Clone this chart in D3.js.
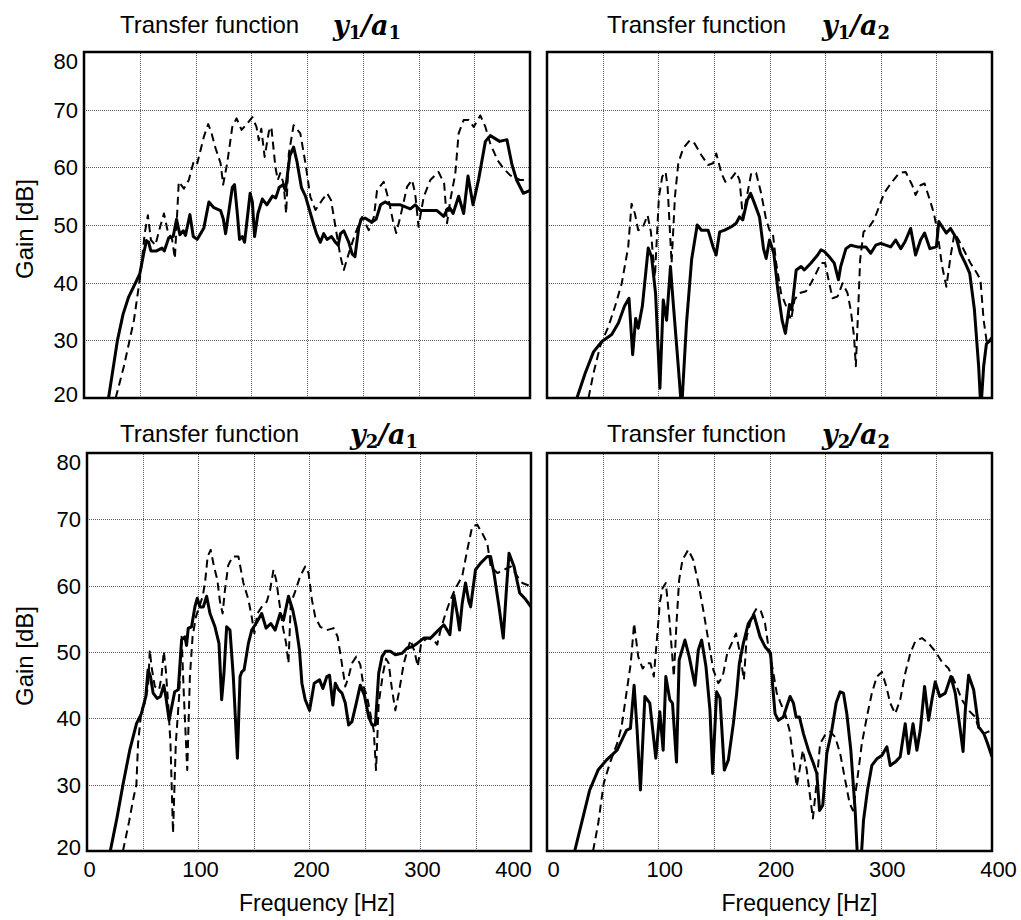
<!DOCTYPE html>
<html>
<head>
<meta charset="utf-8">
<script src="https://cdn.jsdelivr.net/npm/d3@7"></script>
<style>
  html, body { margin: 0; padding: 0; background: #fff; }
  svg { display: block; }
  text { font-family: "Liberation Sans", Arial, Helvetica, sans-serif; fill: #000; }
  .math { font-family: "DejaVu Serif", serif; font-style: italic; font-weight: bold; }
</style>
</head>
<body>
<svg id="chart" width="1021" height="920"></svg>
<script>
// Axis ticks
const freqTicks = [0, 100, 200, 300, 400];
const gainTicks = [20, 30, 40, 50, 60, 70, 80];
const freqGrid = [50, 100, 150, 200, 250, 300, 350];
const gainGrid = [30, 40, 50, 60, 70];

// Gain [dB] vs frequency [Hz], solid = measured response, dashed = second response
const y1a1Solid = [[22,20],[26,25],[30,30],[35,34.5],[40,37.5],[45,39.5],[50,41.5],[54,45.5],[56,47.3],[58,47],[60,45.5],[65,45.5],[70,46],[72,45.5],[76,47.8],[80,48],[83,51],[86,48.3],[89,49],[91,48.2],[95,51.8],[98,48],[101.5,47.5],[107.5,49.5],[112,54],[116.5,53],[122.5,52.5],[125,51],[127,48.5],[133,56.5],[135,57],[137.5,52],[139.5,47.5],[142,48],[144,47],[149,55.5],[151,54],[153,48],[156,52],[160,54.5],[164,53.5],[169,55],[172,54.7],[175,56.5],[178.5,57],[180.7,56],[184.6,62],[188,63.5],[191,61],[195,56.5],[198.6,55],[204.6,51],[208.5,48.5],[212,47],[215,48.5],[218,47.5],[222,48],[225.5,47],[228,46.5],[230,48.5],[233,49],[237.5,47],[240.5,45],[243,44.5],[246.4,49.5],[248.5,51],[252,51.2],[258,50.5],[262,51],[266,53.5],[270,54],[275,53.5],[283.7,53.5],[292.7,52.8],[297,53.5],[301.7,52.5],[308,52.5],[316.6,52.5],[322.6,51.5],[326,52.8],[328,53],[331,52],[336,55],[340.5,52],[344.4,58.5],[348.9,53.5],[354,58],[360,64.5],[364.4,65.5],[372.8,64.5],[379.3,64.8],[383.8,60.5],[388,57.8],[394,55.5],[400,56]];
const y1a1Dashed = [[28.4,20],[35.8,25.5],[44.8,33.5],[50.8,41.6],[54.4,48.5],[57.3,51.7],[60,47.4],[64,46.5],[68,49.5],[71.7,52],[75,49],[79,47.5],[81.5,44.2],[85,57.5],[89.6,56.3],[94,57.8],[98.6,61.2],[101.6,60.7],[107.5,65.3],[111.4,67.5],[114,66.2],[118,63.3],[122.5,60.7],[124.8,57],[128.4,60.7],[133,67],[136.8,68.5],[141.3,66.5],[146.4,67.6],[151,68.7],[154.7,67],[156.8,64.7],[159,66.7],[162,61.8],[165.8,66.2],[168,67],[171.7,60],[173.8,57.8],[176,59],[179,57.2],[181.3,52],[183.7,62.4],[188,67.3],[194,65.9],[198.6,60.7],[203,54.9],[207.6,52.6],[213.5,54.3],[218,55.5],[221.6,54.3],[225.5,49.7],[230,44.5],[233,42.2],[237.5,45.1],[243.4,48.6],[249.4,51.4],[255.4,49.1],[260,51.4],[262.8,56],[268.8,57.5],[273.3,54.3],[277,50.8],[280,48.6],[283.7,51.4],[289.7,56.6],[294.2,57.8],[297,55.5],[300,49.7],[304.7,54.9],[310.6,57.8],[318,59.2],[323,57.2],[325.6,50.3],[328.5,54.3],[333,58.9],[336,65.9],[340.5,68.2],[345,68.2],[349.5,67],[355.4,69],[360,67],[364.4,64.1],[371,61.2],[376.3,59.8],[382.3,58.6],[391,57.8],[400,57.8]];

const y1a2Solid = [[26.9,20],[34.3,24.3],[41.8,28],[49.3,29.8],[58.2,31],[64.2,33],[69.6,35.9],[73.7,37.3],[77,27.5],[79.7,33.8],[82,32.1],[85.7,35.9],[91,46],[94,44.5],[97.6,38.1],[101.5,21.7],[104.5,37],[107.5,33.5],[111,42.8],[112.8,38.1],[118,25.5],[121,18],[125.4,33],[130,44],[135,50],[138.8,49.1],[144.8,49.1],[149.3,46.2],[152,44.8],[155.2,48.8],[159.7,49.1],[165.7,49.7],[170,50.3],[173,51.4],[176,50.9],[180,54.3],[183,55.5],[186.6,53.7],[191,51.4],[194.6,45.9],[197,44.2],[200,47.4],[203.9,45.1],[207.5,38.7],[211.3,33.5],[214.3,31.2],[218,36.2],[220,35.3],[224,42.2],[228.4,42.8],[231.3,42.2],[237.3,43.4],[243.3,44.8],[246.3,45.7],[249.3,45.4],[253.7,44.5],[258.2,43.4],[262,40.5],[264,42.8],[268.7,45.9],[273,46.5],[279,46.2],[286.6,46.2],[291,45.1],[295.5,46.5],[300,46.8],[309,46.2],[313.4,47.4],[318,45.9],[321.8,47.1],[326.9,49.4],[331.3,44.8],[335.8,47.4],[339.4,48.6],[344.2,45.9],[350,46.2],[352.2,50.6],[355.2,49.7],[359,48.6],[362.7,49.4],[368,47.7],[371.6,45.1],[376,43.4],[380,41.6],[384.2,35.3],[388,25.5],[390,18],[392.5,25.5],[395,29.4],[400,30.3]];
const y1a2Dashed = [[37.3,20],[41.8,24.3],[47.8,29],[55.2,32.4],[61.2,35.9],[67.2,39.9],[73,46.2],[76,53.7],[79,52],[82,49.1],[85.7,49.4],[90.4,51.7],[93.4,48.8],[97,41],[100.6,54.9],[103.6,58.4],[106.6,59.2],[108.4,56.6],[112,43.4],[115,54.9],[118,60.7],[122.4,63.3],[128.4,64.7],[132.8,64.1],[138.8,62.1],[144.8,60.4],[149.3,60.7],[152.2,62.4],[156.7,59],[160.3,57.5],[165.7,58.1],[170,59.2],[173.1,57.8],[176,51.4],[179,54.3],[183.6,59],[188,59],[192.5,55.5],[197,50.9],[200,49.1],[203,48.6],[206,43.4],[210.4,38.2],[215,35.9],[219.4,33.5],[222.4,37],[227,38.2],[232.8,38.5],[237.3,39.9],[241.8,41.6],[246.3,43.4],[250,43.4],[253.7,39.9],[256.7,37.3],[261.2,37.6],[265.7,39.9],[270.1,38.2],[273,35.3],[276,30.7],[277.6,25.5],[279.7,35.3],[281.5,44],[284.5,48.8],[289.6,49.7],[294,50.9],[298.5,53.2],[303,55.5],[309,57.2],[316.4,59],[322.4,59.2],[328.3,56.9],[331.3,55.2],[335.8,56.9],[339.4,57.2],[344.2,54.3],[347.8,52],[350.7,49.1],[355.2,42.8],[359,39.3],[362.7,44.5],[366.3,48.6],[370,47.4],[374.6,45.7],[380.6,43.4],[386.6,41.6],[389.6,40.5],[392.5,33.5],[395.5,29.4],[400,30.6]];

const y2a1Solid = [[21,20],[27,25],[32.4,30],[38.5,35.2],[44.6,39.2],[49,40.7],[53,43.3],[55,47.3],[57.2,46.3],[59.6,43.8],[63.2,43],[66.2,43.3],[69.2,45],[71,43.3],[74,39.7],[77,42.3],[79,44],[82.2,44.3],[85.2,51.8],[88.2,52.3],[89.7,51],[91.2,53.6],[94.2,53.8],[97.2,56.8],[99.3,58.1],[101.7,56.8],[104.8,56.8],[107.8,58.4],[110.8,55.8],[115.3,53.8],[118.9,51.3],[121.3,42.8],[123.4,46.8],[125.8,53.8],[128.8,53.3],[131.8,46.3],[135.5,34],[137.9,46.3],[139.4,47],[141.5,47.3],[145.4,51.3],[148.4,53.3],[152.3,54.3],[157.4,55.8],[161.3,53.6],[165.6,54.3],[169.5,53.3],[174,55.8],[177,54.8],[181.5,58.4],[185.4,56.3],[188.4,53.8],[191.4,50.3],[193.6,45.3],[196.6,42.8],[200.5,41.2],[204.7,45.3],[209.5,45.8],[212.5,44.5],[216.1,46.3],[218.5,46.5],[221.5,42],[223.7,45.3],[226.7,44.3],[229.7,43.8],[232.7,42.3],[235.7,39],[238.7,39.5],[242.6,42.3],[246.2,45],[249.9,43.5],[253.8,40.2],[256.8,39],[259.8,39],[262.8,46.8],[265.8,49.3],[268.8,50.1],[273.3,50.1],[277.8,49.6],[283.9,49.8],[288.4,50.6],[292.9,50.8],[297.4,51.3],[303.4,52.1],[309.5,52.1],[315.5,53.1],[321.5,54.1],[324.5,53.3],[326.9,52.6],[330.5,58.6],[333.5,55.8],[335.6,53.3],[338,57.3],[341,60.4],[344,57.6],[345.6,56.8],[350,62.4],[354.6,63.4],[360.6,64.4],[363.6,64.4],[366.6,61.9],[371.2,56.8],[375,52.1],[377.8,59.3],[380.2,64.9],[384.7,62.9],[389.8,58.9],[395.3,57.9],[400,56.8]];
const y2a1Dashed = [[32.4,20],[38,24.5],[41.5,27.7],[44.5,30],[46,36.2],[49,41.2],[52,42.3],[55,44.8],[56.6,50.3],[58.1,47.8],[61.1,44.8],[65,44.3],[67.1,46.3],[69.2,50.1],[71,47.3],[73.1,42.3],[75.2,36.2],[77.5,22.7],[80,36.2],[83,43.3],[85.2,52.3],[87.3,43.3],[90.3,32.2],[92.7,46.3],[95.1,52.3],[98.1,55.3],[101.1,56.8],[104.2,58.4],[106.3,60.4],[108.7,64.4],[111.4,65.4],[114.4,62.9],[117.4,60.9],[119.8,57.6],[122.2,55.8],[124.3,59.4],[127.3,63.1],[131.2,64.4],[136.4,64.4],[140.9,60.4],[145.4,57.9],[148.4,55.3],[150.8,52.8],[153.5,55.8],[157.4,56.8],[162,57.6],[165,59.4],[168,62.4],[170.4,60.9],[173.4,57.3],[176.4,53.8],[179.4,51.3],[181.5,48.3],[183.6,57.3],[187.5,59.1],[192,61.4],[196.6,62.9],[199.6,61.9],[202.6,57.9],[205.6,55.3],[210.1,53.8],[216.1,53.3],[222.2,53.6],[225.8,52.3],[229.1,48.8],[232.7,44.8],[235.7,46.3],[238.7,48.3],[242.6,49.3],[246.2,48.1],[249.2,44.8],[252.3,43.3],[255.3,40.7],[258.3,38.2],[260.4,32.2],[262.8,42.3],[266.7,46.8],[269.4,49],[271.8,48.3],[274.8,44.3],[277.8,41.2],[280.9,43.8],[285.4,48.3],[291.4,51.8],[295,50.1],[298,47.8],[301,51.3],[306.4,52.1],[312.5,51.8],[315.5,51.1],[318.5,53.3],[323,55.8],[327.5,57.9],[332,59.6],[338,61.4],[342.6,65.4],[347,68.9],[351.6,69.2],[356.1,67.9],[360.6,66.4],[363.7,62.9],[369.7,61.9],[375.7,62.4],[381.7,62.9],[387.7,61.4],[392.2,60.4],[400,59.9]];

const y2a2Solid = [[24.9,20],[30.9,24.1],[38.4,29.2],[45.9,32.2],[53.4,33.7],[63,35.2],[71.4,38.2],[75,38.5],[78.3,45],[81,38.2],[84,29.2],[88,43.3],[92.4,42.3],[97.8,34],[101.4,41],[104.4,35.2],[106.8,46.3],[110.4,42.8],[112.8,42.3],[116.4,33.4],[118.8,48.8],[124,51.8],[127.8,49.3],[133,45],[136,50.3],[139,51.8],[142.9,47.8],[146.5,41.2],[148.9,31.7],[152.5,44],[155.5,43],[159.4,32.2],[163,33.7],[167.5,39.2],[170.5,43.8],[172.9,48.3],[176.5,51.3],[181,54.3],[186,55.6],[191.5,52.3],[196,50.8],[201,49.8],[202.9,44.8],[205,40.7],[208,39.7],[212.5,40.2],[215.5,41.8],[218.5,43.3],[221.5,42.3],[223.9,40.2],[226.9,40.2],[230.5,37.7],[235,35.2],[239.5,33.2],[242.5,31.7],[245,26.1],[247.9,26.9],[251.5,34.7],[256,38.2],[259.9,42.3],[263.5,44],[266.5,43.8],[269.5,40.7],[273.1,35.2],[277,26.1],[279.4,18],[282.1,18],[284.5,24.6],[288.1,29.2],[292,32.9],[296.5,33.9],[301,34.4],[305.5,35.7],[308.5,32.9],[313,33.4],[317.5,34.2],[322,39.2],[325,34.7],[329,39.2],[332.5,35.2],[335.5,38.2],[339.4,44.8],[343,39.7],[346,42.8],[349,45.5],[353,43.3],[358,43.8],[363,46.3],[367,43.8],[371.5,38.2],[374,35],[376,41.2],[379,46.5],[383.5,44.3],[388,38.7],[392.6,37.7],[396,36.2],[400,34.2]];
const y2a2Dashed = [[41.4,20],[46,24.1],[51,30.2],[56.4,33.2],[63,36.2],[67,38.7],[71.4,43.8],[75.3,48.3],[78.3,54.3],[82,49.3],[86,47.5],[89.4,48.3],[93,48.3],[96,46.3],[98.4,51.1],[101.4,57.4],[103.8,59.6],[106.8,60.4],[109.8,55.3],[112.2,50.3],[114,46.3],[116.4,54.3],[118.8,60.9],[121.8,63.9],[127,65.4],[131.4,63.9],[136,60.4],[140.5,56.3],[145,51.8],[149.5,47.3],[154,45.3],[157.9,46.3],[162,49.8],[166,51.3],[169.9,52.8],[172.9,50.3],[177,45.8],[179.5,52.3],[184,55.3],[188.5,56.6],[192,56.3],[196,54.3],[199,50.8],[203,47.3],[206.5,43.8],[210,42.3],[214,40.7],[218,38.2],[221.5,33.7],[224.5,29.7],[227,32.2],[230,35.2],[233.5,32.2],[236.5,28.2],[239,24.9],[242,29.7],[245.5,36.2],[250,37.5],[254.5,38],[259,37.2],[263.5,34.7],[268,30.7],[272,27.2],[275,26.1],[278.5,30.2],[283,36.2],[287.5,40.2],[292,43.8],[296.5,46.3],[301,47],[305,44.8],[308.5,42.3],[313,40.7],[317.5,42.8],[322,46.8],[326.5,49.8],[331,51.6],[337,52.1],[343,51.3],[349,50.1],[355,48.5],[361,47.5],[367,45.3],[373,42.8],[379,41.2],[385,40.2],[388,38.5],[392.5,37.7],[400,38.2]];

// Panel layout
const panels = [
  { id: "p11", solid: y1a1Solid, dashed: y1a1Dashed, out: "1", inp: "1",
    left: 84, right: 530, top: 52, bottom: 398, yAxis: true, xAxis: false,
    titleX: 120, mathX: 333, titleY: 33 },
  { id: "p12", solid: y1a2Solid, dashed: y1a2Dashed, out: "1", inp: "2",
    left: 547, right: 992, top: 52, bottom: 398, yAxis: false, xAxis: false,
    titleX: 607, mathX: 822, titleY: 33 },
  { id: "p21", solid: y2a1Solid, dashed: y2a1Dashed, out: "2", inp: "1",
    left: 87, right: 531, top: 453, bottom: 851, yAxis: true, xAxis: true,
    titleX: 120, mathX: 350, titleY: 442, lastTickShift: -18, tickShift: 2 },
  { id: "p22", solid: y2a2Solid, dashed: y2a2Dashed, out: "2", inp: "2",
    left: 547, right: 992, top: 453, bottom: 851, yAxis: false, xAxis: true,
    titleX: 607, mathX: 822, titleY: 442, lastTickShift: 6, tickShift: 6 }
];

const svg = d3.select("#chart");
const defs = svg.append("defs");

panels.forEach(p => {
  const x = d3.scaleLinear().domain([0, 400]).range([p.left, p.right]);
  const y = d3.scaleLinear().domain([20, 80]).range([p.bottom, p.top]);
  const g = svg.append("g").attr("class", "panel");
  const w = p.right - p.left, h = p.bottom - p.top;

  // dotted grid
  const gx = g.append("g")
    .attr("transform", `translate(0,${p.bottom})`)
    .call(d3.axisBottom(x).tickValues(freqGrid).tickSize(-h).tickFormat(""));
  const gy = g.append("g")
    .attr("transform", `translate(${p.left},0)`)
    .call(d3.axisLeft(y).tickValues(gainGrid).tickSize(-w).tickFormat(""));
  [gx, gy].forEach(a => {
    a.select(".domain").remove();
    a.selectAll(".tick line")
      .attr("stroke", "#5a5a5a")
      .attr("stroke-width", 1)
      .attr("stroke-dasharray", "1,1")
      .attr("shape-rendering", "crispEdges");
  });

  // curves, clipped to the plot box
  defs.append("clipPath").attr("id", "clip-" + p.id)
    .append("rect").attr("x", p.left).attr("y", p.top).attr("width", w).attr("height", h);
  const line = d3.line().x(d => x(d[0])).y(d => y(d[1]));
  const curves = g.append("g").attr("clip-path", `url(#clip-${p.id})`);
  curves.append("path").datum(p.dashed)
    .attr("d", line).attr("fill", "none").attr("stroke", "#000")
    .attr("stroke-width", 2).attr("stroke-dasharray", "8,5")
    .attr("stroke-linejoin", "round");
  curves.append("path").datum(p.solid)
    .attr("d", line).attr("fill", "none").attr("stroke", "#000")
    .attr("stroke-width", 3).attr("stroke-linejoin", "round");

  // frame
  g.append("rect")
    .attr("x", p.left).attr("y", p.top).attr("width", w).attr("height", h)
    .attr("fill", "none").attr("stroke", "#000").attr("stroke-width", 2.5);

  // tick labels
  if (p.yAxis) {
    const ay = g.append("g")
      .attr("transform", `translate(${p.left},0)`)
      .call(d3.axisLeft(y).tickValues(gainTicks).tickSize(0).tickPadding(6));
    ay.select(".domain").remove();
    ay.selectAll("text")
      .attr("font-size", 22)
      .attr("font-family", "Liberation Sans, Arial, sans-serif")
      .attr("dy", d => d === 80 ? "0.75em" : d === 20 ? "0.15em" : "0.34em");
  }
  if (p.xAxis) {
    const ax = g.append("g")
      .attr("transform", `translate(0,${p.bottom})`)
      .call(d3.axisBottom(x).tickValues(freqTicks).tickSize(0).tickPadding(10));
    ax.select(".domain").remove();
    ax.selectAll("text")
      .attr("font-size", 22)
      .attr("font-family", "Liberation Sans, Arial, sans-serif")
      .attr("dx", d => d === 400 ? p.lastTickShift : p.tickShift);
    g.append("text")
      .attr("x", (p.left + p.right) / 2 + (p.yAxis ? 8 : 30))
      .attr("y", 911)
      .attr("text-anchor", "middle")
      .attr("font-size", 23)
      .text("Frequency [Hz]");
  }
  if (p.yAxis) {
    g.append("text")
      .attr("transform", `translate(33,${(p.top + p.bottom) / 2 + 4}) rotate(-90)`)
      .attr("text-anchor", "middle")
      .attr("font-size", 24)
      .text("Gain [dB]");
  }

  // title with ratio y_i / a_j
  g.append("text")
    .attr("x", p.titleX).attr("y", p.titleY)
    .attr("font-size", 24)
    .text("Transfer function");
  const m = g.append("text").attr("class", "math")
    .attr("x", p.mathX).attr("y", p.titleY + 2)
    .attr("font-size", 27);
  m.append("tspan").text("y");
  m.append("tspan").attr("font-size", 18).attr("font-style", "normal").attr("dy", 4).text(p.out);
  m.append("tspan").attr("dy", -4).text("/a");
  m.append("tspan").attr("font-size", 18).attr("font-style", "normal").attr("dy", 4).text(p.inp);
});
</script>
</body>
</html>
